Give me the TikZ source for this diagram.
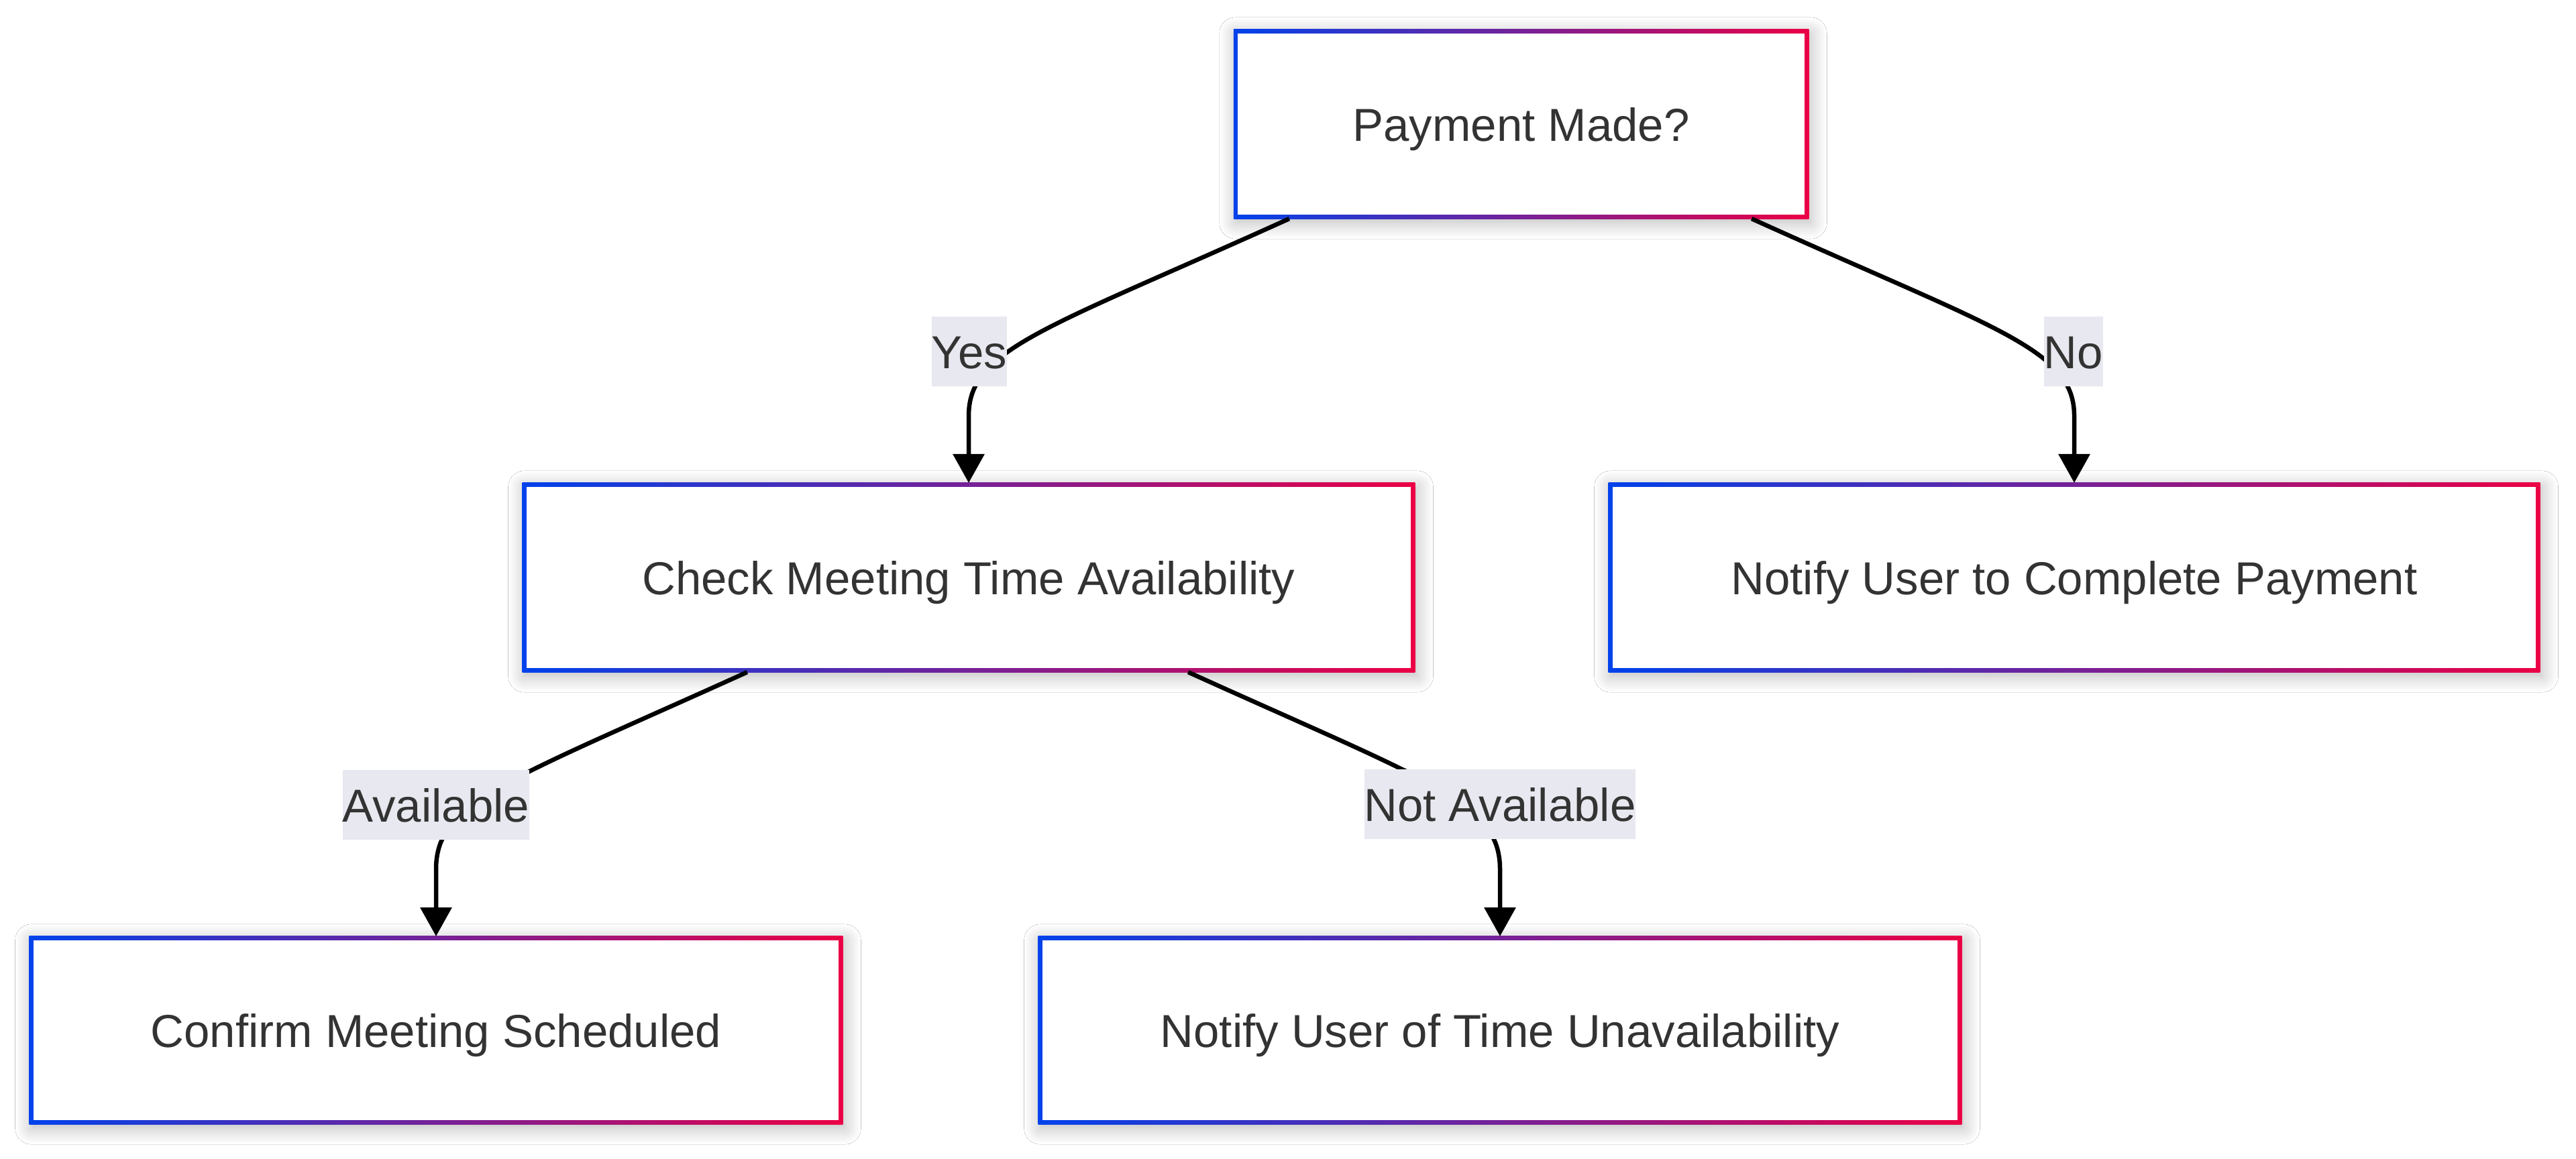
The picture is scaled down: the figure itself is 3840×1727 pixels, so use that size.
\documentclass[tikz,border=0pt]{standalone}
\usepackage{fontspec}
\setmainfont{Liberation Sans}
\usetikzlibrary{arrows.meta,calc,shadows.blur}
\definecolor{gblue}{HTML}{0042EB}
\definecolor{gred}{HTML}{EB0045}
\definecolor{txt}{HTML}{333333}
\definecolor{lblbg}{HTML}{E8E8F0}
\tikzset{
  box/.style={rectangle, inner sep=0pt, outer sep=0pt, fill=white,
    minimum height=2.82cm, text=txt, text height=0.5cm, text depth=0pt,
    font=\fontsize{19.6pt}{23.5pt}\selectfont,
    blur shadow={shadow xshift=0.03cm, shadow yshift=-0.06cm, shadow blur radius=0.24cm, shadow opacity=28, shadow blur steps=12},
    path picture={
      \shade[left color=gblue, right color=gred]
        (path picture bounding box.south west) rectangle (path picture bounding box.north east);
      \fill[white]
        ([shift={(0.06cm,0.06cm)}]path picture bounding box.south west) rectangle
        ([shift={(-0.06cm,-0.06cm)}]path picture bounding box.north east);
    }},
  elabel/.style={rectangle, fill=lblbg, text=txt, inner xsep=0pt, inner ysep=0pt,
    text height=0.5cm, text depth=0pt,
    minimum height=1.04cm, font=\fontsize{19.6pt}{23.5pt}\selectfont},
  edge/.style={line width=0.065cm, black, -{Triangle[width=0.46cm,length=0.43cm]}}
}
\begin{document}
\begin{tikzpicture}[x=0.01cm,y=-0.01cm]
\useasboundingbox[fill=white] (0,0) rectangle (3840,1727);

\node[box, minimum width=8.57cm] (b1) at (2267.5,185) {Payment Made?};
\node[box, minimum width=13.30cm] (b2) at (1444,861) {Check Meeting Time Availability};
\node[box, minimum width=13.88cm] (b3) at (3092,861) {Notify User to Complete Payment};
\node[box, minimum width=12.12cm, minimum height=2.80cm] (b4) at (650,1536) {Confirm Meeting Scheduled};
\node[box, minimum width=13.76cm, minimum height=2.80cm] (b5) at (2236,1536) {Notify User of Time Unavailability};

% edges
\draw[edge] ([xshift=-3.455cm]b1.south) .. controls (1560,490) and (1444,520) .. (1444,620) -- (b2.north);
\draw[edge] ([xshift=3.435cm]b1.south) .. controls (2973,490) and (3092,520) .. (3092,620) -- (b3.north);
\draw[edge] ([xshift=-3.30cm]b2.south) .. controls (752,1166) and (650,1196) .. (650,1296) -- (b4.north);
\draw[edge] ([xshift=3.27cm]b2.south) .. controls (2133,1166) and (2236,1196) .. (2236,1296) -- (b5.north);

% labels
\node[elabel] (lyes) at (1445,524) {Yes};
\node[elabel] (lno) at (3091,524) {No};
\node[elabel] (lav) at (650,1200) {Available};
\node[elabel] (lnav) at (2236,1199) {Not Available};
\end{tikzpicture}
\end{document}
